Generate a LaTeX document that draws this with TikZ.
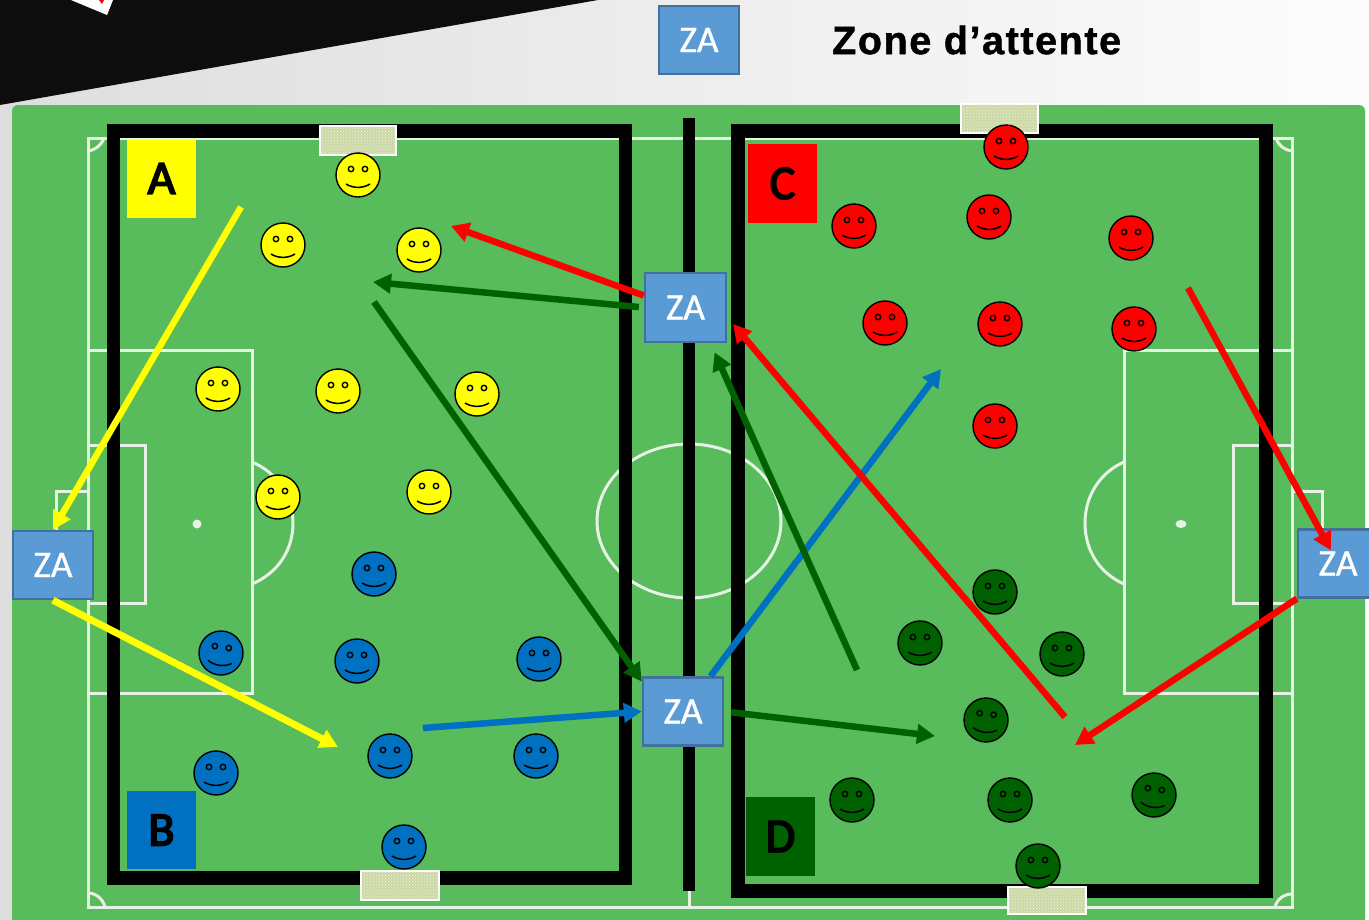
\documentclass[tikz,border=0pt]{standalone}
\usepackage{fontspec}
\setmainfont{Carlito}
\newfontfamily\titlefont[LetterSpace=4,RawFeature={embolden=1.2}]{Liberation Sans Bold}
\newfontfamily\letterfont[RawFeature={embolden=3.5}]{Carlito}
\newfontfamily\zafont[RawFeature={embolden=0.8}]{Carlito}
\usetikzlibrary{arrows.meta,patterns}
\definecolor{fieldgreen}{HTML}{58BB5C}
\definecolor{zafill}{HTML}{5B9BD5}
\definecolor{zaedge}{HTML}{41719C}
\definecolor{tblue}{HTML}{0070C0}
\definecolor{tgreen}{HTML}{006100}
\definecolor{tred}{HTML}{FF0000}
\definecolor{tyellow}{HTML}{FFFF00}
\definecolor{linew}{HTML}{E6F2E4}
\definecolor{netc}{HTML}{CBD8A4}
\tikzset{
  fieldline/.style={draw=linew,line width=3pt},
  frame/.style={draw=black,line width=14pt,line cap=butt,line join=miter},
  zabox/.style={draw=zaedge,line width=2.4pt,fill=zafill,text=white,minimum width=80pt,minimum height=68pt,inner sep=0pt,font=\zafont\fontsize{37.5}{37.5}\selectfont},
  letterbox/.style={minimum width=69pt,minimum height=78pt,inner sep=0pt,text=black,font=\letterfont\fontsize{48}{48}\selectfont},
  goalbox/.style={draw=white,line width=2pt,fill=netc,postaction={pattern=crosshatch dots,pattern color=white!70!netc}},
  face/.style={circle,draw=black,line width=1.4pt,minimum size=44pt,inner sep=0pt},
  mv/.style={-{Triangle[length=18pt,width=19pt]},line width=6.5pt,line cap=butt},
}
\newcommand{\smiley}[5]{%
  \begin{scope}[shift={(#2)},rotate=#5]
    \node[face,fill=#3] (#1) at (0,0) {};
    \draw[black,line width=1.4pt,fill=#4] (-7,-6) circle[radius=2.7pt] (7,-6) circle[radius=2.7pt];
    \draw[black,line width=1.5pt] (-12,9) .. controls (-5,13.5) and (5,13.5) .. (12,9);
  \end{scope}}
\begin{document}
\begin{tikzpicture}[x=1pt,y=-1pt]
\useasboundingbox (0,0) rectangle (1369,919);
\clip (0,0) rectangle (1369,919);
% background
\shade[left color=black!13,right color=black!1] (0,0) rectangle (1369,919);
\fill[black!95] (0,0) -- (598,0) -- (0,105) -- cycle;
\fill[white] (71,0) -- (107,15) -- (113,0) -- cycle;
\fill[tred] (99,0) -- (104,0) -- (102,4) -- cycle;
\fill[fieldgreen,rounded corners=6pt] (12,105) rectangle (1365,930);
% field markings
\draw[fieldline] (88,138) rectangle (1292,907);
\draw[fieldline] (689,138) -- (689,907);
\draw[fieldline] (689,521) ellipse[x radius=92pt,y radius=77pt];
\draw[fieldline] (88,350) -| (252,693) -- (88,693);
\draw[fieldline] (88,445) -| (145,603) -- (88,603);
\draw[fieldline] (88,491) -- (56,491) -- (56,535);
\draw[fieldline] (252,462) .. controls (278,473) and (293,497) .. (293,523) .. controls (293,550) and (278,573) .. (252,584);
\fill[linew] (197,524) circle[radius=4.5pt];
\draw[fieldline] (1292,350) -| (1124,693) -- (1292,693);
\draw[fieldline] (1292,445) -| (1233,603) -- (1292,603);
\draw[fieldline] (1292,491) -- (1322,491) -- (1322,535);
\draw[fieldline] (1124,462) .. controls (1099,473) and (1085,497) .. (1085,523) .. controls (1085,550) and (1099,573) .. (1124,584);
\fill[linew] (1181,524) ellipse[x radius=5.5pt,y radius=4pt];
\draw[fieldline] (88,151) .. controls (95,150) and (101,146) .. (104,138);
\draw[fieldline] (88,893) .. controls (96,893) and (103,899) .. (105,907);
\draw[fieldline] (1276,138) .. controls (1278,145) and (1284,150) .. (1292,151);
\draw[fieldline] (1275,907) .. controls (1277,899) and (1284,894) .. (1292,894);
% frames
\draw[frame,line width=13.5pt] (113.5,131) rectangle (625.5,878);
\draw[frame] (737.5,131) rectangle (1265.5,891);
\fill[black] (683,118) rectangle (695,891);
% goals
\path[goalbox] (320,126) rectangle (396,155);
\path[goalbox] (361,871) rectangle (439,900);
\path[goalbox] (961,104) rectangle (1038,133);
\path[goalbox] (1008,887) rectangle (1086,914);
% team labels
\node[letterbox,fill=tyellow] (labelA) at (161.5,178.5) {\raisebox{-1.5pt}{A}};
\node[letterbox,fill=tblue] (labelB) at (161.5,830) {\raisebox{-1.5pt}{B}};
\node[letterbox,fill=tred,minimum height=79pt] (labelC) at (782.5,183.5) {\raisebox{-1.5pt}{C}};
\node[letterbox,fill=tgreen,minimum height=79pt] (labelD) at (780.5,836.5) {\raisebox{-1.5pt}{D}};
% players
\foreach \n/\p in {y1/{358,175},y2/{283,245},y3/{419,250},y4/{218,389},y5/{338,391},y6/{477,394},y7/{278,497},y8/{429,492}}
  {\smiley{\n}{\p}{tyellow}{tyellow}{0}}
\foreach \n/\p/\r in {b1/{374,574}/0,b2/{221,653}/-8,b3/{357,661}/0,b4/{539,659}/0,b5/{216,773}/0,b6/{390,756}/0,b7/{536,756}/0,b8/{404,847}/0}
  {\smiley{\n}{\p}{tblue}{tblue}{\r}}
\foreach \n/\p in {r1/{1006,147},r2/{854,226},r3/{989,217},r4/{1131,238},r5/{885,323},r6/{1000,324},r7/{1134,329},r8/{995,426}}
  {\smiley{\n}{\p}{tred}{tred}{0}}
\foreach \n/\p/\r in {g1/{995,592}/0,g2/{920,643}/0,g3/{1062,654}/0,g4/{986,720}/-6,g5/{852,800}/0,g6/{1010,800}/0,g7/{1154,795}/-8,g8/{1038,866}/0}
  {\smiley{\n}{\p}{tgreen}{tgreen}{\r}}
% waiting zones
\node[zabox] (zaLegend) at (699,40) {ZA};
\node[anchor=west,inner sep=0pt,font=\titlefont\fontsize{39.5}{39.5}\selectfont,text=black] (legendText) at (832,40) {Zone d’attente};
\node[zabox,minimum width=81pt,minimum height=69pt] (zaTop) at (685.5,307.5) {ZA};
\node[zabox] (zaBottom) at (683,711.5) {ZA};
\node[zabox] (zaLeft) at (53,565) {ZA};
\node[zabox] (zaRight) at (1338,563.5) {ZA};
% free ends of the moves
\coordinate (y1start) at (241,207);
\coordinate (y2end) at (338,747);
\coordinate (rAend) at (451,226);
\coordinate (gAend) at (373,282);
\coordinate (gDiagStart) at (374,302);
\coordinate (bStart) at (423,728);
\coordinate (bEnd) at (941,369);
\coordinate (gEnd) at (935,736);
\coordinate (gUpStart) at (857,670);
\coordinate (rUpStart) at (1065,717);
\coordinate (rStart) at (1188,288);
\coordinate (rEnd) at (1075,745);
% moves
\draw[mv,tyellow] (y1start) -- (zaLeft.north);
\draw[mv,tyellow,line width=7pt] (zaLeft.south) -- (y2end);
\draw[mv,tred] (zaTop.164) -- (rAend);
\draw[mv,tgreen,shorten <=5pt] (zaTop.west) -- (gAend);
\draw[mv,tgreen] (gDiagStart) -- (zaBottom.144);
\draw[mv,tblue] (bStart) -- (zaBottom.west);
\draw[mv,tblue] (zaBottom.52.7) -- (bEnd);
\draw[mv,tgreen,shorten <=7pt] (zaBottom.east) -- (gEnd);
\draw[mv,tgreen,shorten >=10pt] (gUpStart) -- (zaTop.-55);
\draw[mv,tred,shorten >=9pt] (rUpStart) -- (zaTop.-13);
\draw[mv,tred,shorten >=15pt] (rStart) -- (zaRight.center);
\draw[mv,tred] (zaRight.south west) -- (rEnd);
\end{tikzpicture}
\end{document}
